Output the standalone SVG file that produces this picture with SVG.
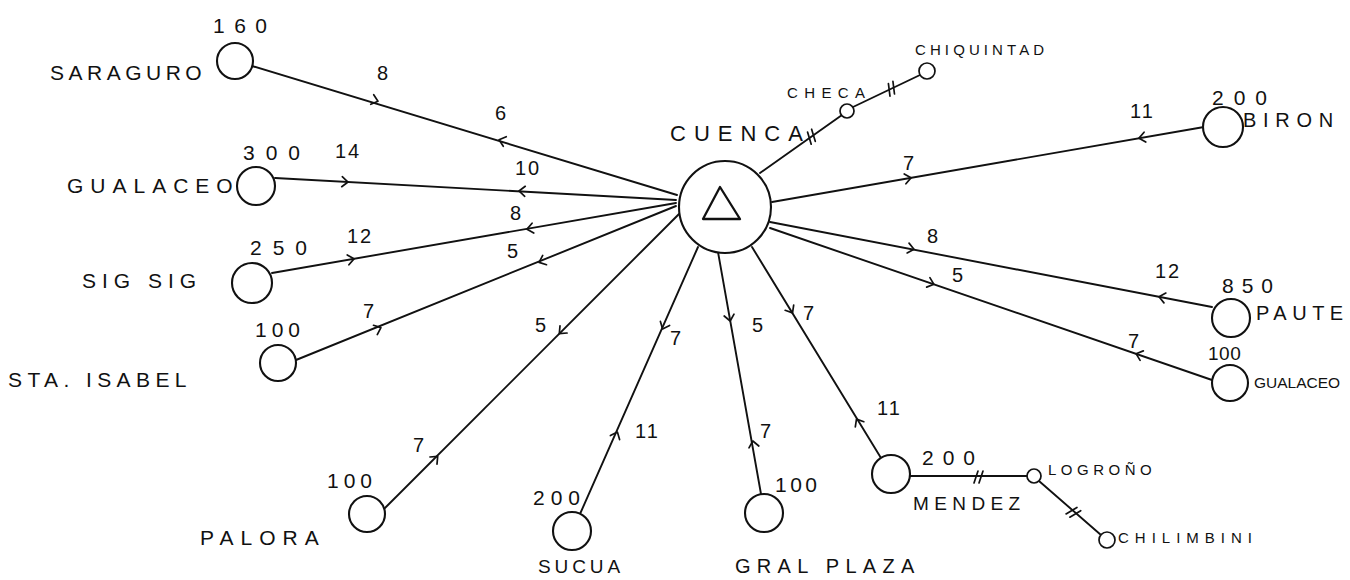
<svg xmlns="http://www.w3.org/2000/svg" xmlns:xlink="http://www.w3.org/1999/xlink" width="1350" height="580" viewBox="0 0 1350 580">
<style>
  .ln { stroke:#111; stroke-width:1.9; fill:none; stroke-linecap:round; }
  .mk { stroke:#111; stroke-width:1.7; fill:none; stroke-linecap:round; stroke-linejoin:round; }
  .nd { stroke:#111; stroke-width:2.1; fill:#fff; }
  .sm { stroke:#111; stroke-width:1.7; fill:#fff; }
  text { font-family:"Liberation Sans", Arial, sans-serif; fill:#111; }
  .nm { font-size:21px; letter-spacing:6px; }
  .num { font-size:21px; letter-spacing:8px; }
  .el { font-size:20px; letter-spacing:2px; }
  .hw { font-size:15px; letter-spacing:5px; }
</style>
<defs>
  <path id="chev" d="M-5,-5 L1,0 L-5,5" class="mk"/>
  <path id="tick2" d="M-4,6 L0,-6 M1,6 L5,-6" class="mk"/>
</defs>
<rect width="1350" height="580" fill="#fff"/>

<g id="connectors">
  <!-- Saraguro -->
  <line class="ln" x1="252" y1="66" x2="677" y2="195"/>
  <use href="#chev" transform="translate(377,101) rotate(17.3)"/>
  <use href="#chev" transform="translate(500,140) rotate(197.3)"/>
  <text class="el" x="377" y="80">8</text>
  <text class="el" x="495" y="120">6</text>
  <!-- Gualaceo left -->
  <line class="ln" x1="275" y1="178" x2="676" y2="200"/>
  <use href="#chev" transform="translate(347,182) rotate(3.1)"/>
  <use href="#chev" transform="translate(520,191) rotate(183.1)"/>
  <text class="el" x="335" y="158">14</text>
  <text class="el" x="515" y="175">10</text>
  <!-- Sig Sig -->
  <line class="ln" x1="272" y1="273" x2="676" y2="203"/>
  <use href="#chev" transform="translate(353,259) rotate(-9.8)"/>
  <use href="#chev" transform="translate(528,229) rotate(170.2)"/>
  <text class="el" x="347" y="243">12</text>
  <text class="el" x="510" y="220">8</text>
  <!-- Sta. Isabel -->
  <line class="ln" x1="296" y1="360" x2="676" y2="206"/>
  <use href="#chev" transform="translate(380,328) rotate(-22.4)"/>
  <use href="#chev" transform="translate(540,262) rotate(157.6)"/>
  <text class="el" x="363" y="318">7</text>
  <text class="el" x="507" y="258">5</text>
  <!-- Palora -->
  <line class="ln" x1="384" y1="509" x2="679" y2="214"/>
  <use href="#chev" transform="translate(437,457) rotate(-45)"/>
  <use href="#chev" transform="translate(560,333) rotate(135)"/>
  <text class="el" x="413" y="452">7</text>
  <text class="el" x="535" y="332">5</text>
  <!-- Sucua -->
  <line class="ln" x1="580" y1="514" x2="698" y2="247"/>
  <use href="#chev" transform="translate(617,433) rotate(-66.5)"/>
  <use href="#chev" transform="translate(663,328) rotate(113.5)"/>
  <text class="el" x="635" y="438">11</text>
  <text class="el" x="670" y="345">7</text>
  <!-- Gral Plaza -->
  <line class="ln" x1="761" y1="494" x2="718" y2="252"/>
  <use href="#chev" transform="translate(730,320) rotate(79.6)"/>
  <use href="#chev" transform="translate(753,442) rotate(-100.4)"/>
  <text class="el" x="752" y="332">5</text>
  <text class="el" x="760" y="438">7</text>
  <!-- Mendez -->
  <line class="ln" x1="881" y1="458" x2="752" y2="247"/>
  <use href="#chev" transform="translate(792,312) rotate(58.8)"/>
  <use href="#chev" transform="translate(857,420) rotate(-121.2)"/>
  <text class="el" x="803" y="320">7</text>
  <text class="el" x="877" y="415">11</text>
  <!-- Biron -->
  <line class="ln" x1="1204" y1="127" x2="772" y2="202"/>
  <use href="#chev" transform="translate(910,178) rotate(-9.8)"/>
  <use href="#chev" transform="translate(1140,138) rotate(170.2)"/>
  <text class="el" x="903" y="170">7</text>
  <text class="el" x="1130" y="118">11</text>
  <!-- Paute -->
  <line class="ln" x1="1212" y1="307" x2="770" y2="222"/>
  <use href="#chev" transform="translate(913,249) rotate(10.9)"/>
  <use href="#chev" transform="translate(1160,297) rotate(190.9)"/>
  <text class="el" x="927" y="243">8</text>
  <text class="el" x="1155" y="278">12</text>
  <!-- Gualaceo right -->
  <line class="ln" x1="1212" y1="380" x2="770" y2="228"/>
  <use href="#chev" transform="translate(933,284) rotate(19)"/>
  <use href="#chev" transform="translate(1137,354) rotate(199)"/>
  <text class="el" x="952" y="282">5</text>
  <text class="el" x="1128" y="348">7</text>
  <!-- Checa / Chiquintad -->
  <line class="ln" x1="760" y1="173" x2="842" y2="115"/>
  <use href="#tick2" transform="translate(811,137) rotate(-35.3)"/>
  <line class="ln" x1="853" y1="107" x2="920" y2="75"/>
  <use href="#tick2" transform="translate(891,89) rotate(-25.5)"/>
  <!-- Mendez / Logrono / Chilimbini -->
  <line class="ln" x1="910" y1="476" x2="1027" y2="476"/>
  <use href="#tick2" transform="translate(978,477) rotate(0)"/>
  <line class="ln" x1="1039" y1="481" x2="1101" y2="535"/>
  <use href="#tick2" transform="translate(1073,512) rotate(41)"/>
</g>

<g id="cuenca">
  <circle class="nd" cx="725" cy="207" r="46"/>
  <path d="M720,187 L740,219 L703,219 Z" fill="none" stroke="#111" stroke-width="2.3" stroke-linejoin="round"/>
  <text class="nm" x="670" y="141" style="font-size:22px;letter-spacing:8px">CUENCA</text>
</g>
<g id="saraguro">
  <circle class="nd" cx="235" cy="61" r="18"/>
  <text class="num" x="213" y="33" style="letter-spacing:9.5px">160</text>
  <text class="nm" x="50" y="80" style="letter-spacing:4.5px">SARAGURO</text>
</g>
<g id="gualaceo-w">
  <circle class="nd" cx="256" cy="186" r="19"/>
  <text class="num" x="243" y="160" style="letter-spacing:11px">300</text>
  <text class="nm" x="67" y="193" style="letter-spacing:7px">GUALACEO</text>
</g>
<g id="sigsig">
  <circle class="nd" cx="252" cy="283" r="20"/>
  <text class="num" x="250" y="255" style="letter-spacing:11px">250</text>
  <text class="nm" x="82" y="288" style="letter-spacing:6px">SIG  SIG</text>
</g>
<g id="sta-isabel">
  <circle class="nd" cx="278" cy="363" r="18"/>
  <text class="num" x="255" y="337" style="letter-spacing:5px">100</text>
  <text class="nm" x="8" y="387" style="letter-spacing:5.4px">STA. ISABEL</text>
</g>
<g id="palora">
  <circle class="nd" cx="367" cy="514" r="18"/>
  <text class="num" x="327" y="488" style="letter-spacing:5px">100</text>
  <text class="nm" x="200" y="545" style="letter-spacing:7px">PALORA</text>
</g>
<g id="sucua">
  <circle class="nd" cx="572" cy="531" r="19"/>
  <text class="num" x="533" y="505" style="letter-spacing:6px">200</text>
  <text class="nm" x="538" y="573" style="font-size:19px;letter-spacing:3.9px">SUCUA</text>
</g>
<g id="gral-plaza">
  <circle class="nd" cx="764" cy="513" r="19"/>
  <text class="num" x="775" y="492" style="letter-spacing:3.5px">100</text>
  <text class="nm" x="735" y="573" style="font-size:20px;letter-spacing:6.3px">GRAL  PLAZA</text>
</g>
<g id="mendez">
  <circle class="nd" cx="891" cy="474" r="19"/>
  <text class="num" x="922" y="465" style="letter-spacing:9px">200</text>
  <text class="nm" x="913" y="510" style="font-size:19px;letter-spacing:5.4px">MENDEZ</text>
</g>
<g id="logrono">
  <circle class="sm" cx="1034" cy="476" r="7"/>
  <text class="hw" x="1048" y="475" style="letter-spacing:4.5px">LOGROÑO</text>
</g>
<g id="chilimbini">
  <circle class="sm" cx="1107" cy="540" r="8"/>
  <text class="hw" x="1118" y="543" style="letter-spacing:6px">CHILIMBINI</text>
</g>
<g id="checa">
  <circle class="sm" cx="847" cy="111" r="7"/>
  <text class="hw" x="787" y="98" style="letter-spacing:6.4px">CHECA</text>
</g>
<g id="chiquintad">
  <circle class="sm" cx="927" cy="71" r="8"/>
  <text class="hw" x="915" y="55" style="letter-spacing:4.1px">CHIQUINTAD</text>
</g>
<g id="biron">
  <circle class="nd" cx="1223" cy="127" r="20"/>
  <text class="num" x="1212" y="105" style="letter-spacing:10px">200</text>
  <text class="nm" x="1243" y="127" style="font-size:20px;letter-spacing:6.7px">BIRON</text>
</g>
<g id="paute">
  <circle class="nd" cx="1231" cy="318" r="19"/>
  <text class="num" x="1222" y="293" style="letter-spacing:8px">850</text>
  <text class="nm" x="1256" y="320" style="font-size:20px;letter-spacing:5.5px">PAUTE</text>
</g>
<g id="gualaceo-e">
  <circle class="nd" cx="1230" cy="383" r="18"/>
  <text class="num" x="1208" y="360" style="font-size:19px;letter-spacing:0.5px">100</text>
  <text class="nm" x="1254" y="388" style="font-size:15.5px;letter-spacing:0px">GUALACEO</text>
</g>
</svg>
